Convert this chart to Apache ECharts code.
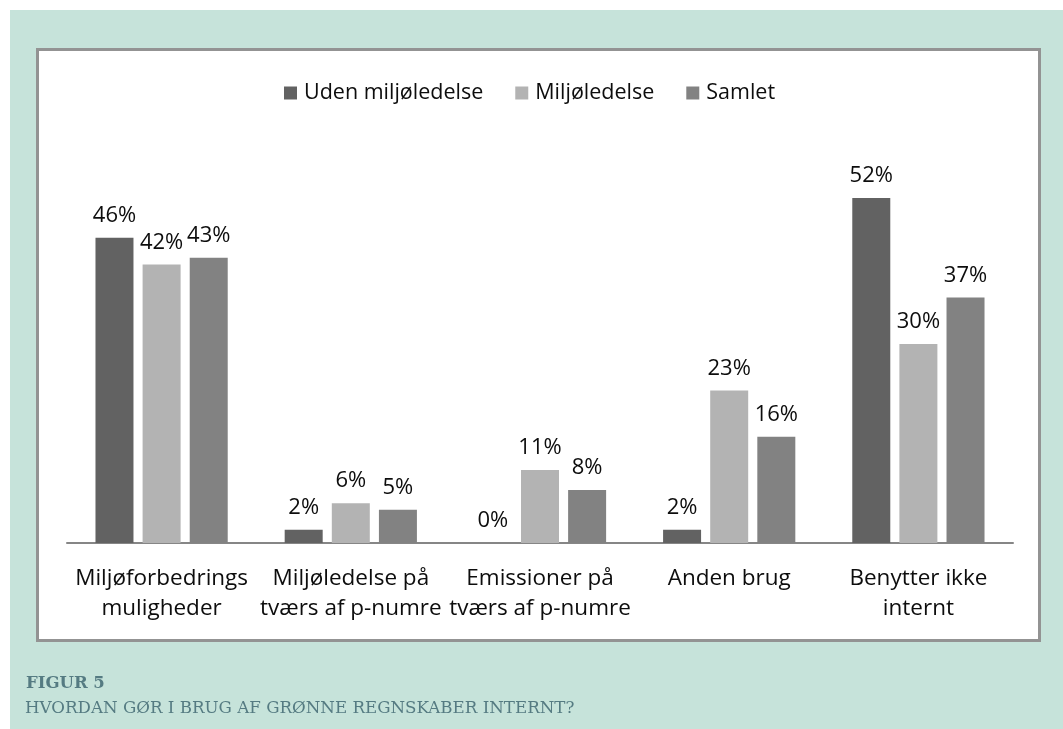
<!DOCTYPE html>
<html>
<head>
<meta charset="utf-8">
<script src="https://cdn.jsdelivr.net/npm/echarts@6/dist/echarts.min.js"></script>
<style>
  html, body { margin: 0; padding: 0; background: #fff; }
  #chart { width: 1063px; height: 729px; }
</style>
</head>
<body>
<div id="chart"></div>
<script>
const categories = [
  'Miljøforbedrings\nmuligheder',
  'Miljøledelse på\ntværs af p-numre',
  'Emissioner på\ntværs af p-numre',
  'Anden brug',
  'Benytter ikke\ninternt'
]
const seriesNames = ['Uden miljøledelse', 'Miljøledelse', 'Samlet']
const udenMiljoledelse = [46, 2, 0, 2, 52]
const miljoledelse = [42, 6, 11, 23, 30]
const samlet = [43, 5, 8, 16, 37]
const colors = ['#626262', '#b3b3b3', '#828282']

const labelFont = '"Open Sans", "Noto Sans", sans-serif'
const captionColor = '#557b82'

const chart = echarts.init(document.getElementById('chart'))

const makeSeries = (name, data, i) => ({
  name,
  type: 'bar',
  data,
  barWidth: 38,
  barGap: '24%',
  itemStyle: { color: colors[i] },
  label: {
    show: true,
    position: 'top',
    distance: 11,
    formatter: p => Math.round(p.value) + '%',
    color: '#0d0d0d',
    fontFamily: labelFont,
    fontSize: 22
  }
})

chart.setOption({
  animation: false,
  backgroundColor: '#ffffff',
  graphic: [
    // green page panel
    { type: 'rect', z: -10, silent: true, shape: { x: 10, y: 10, width: 1053, height: 719 }, style: { fill: '#c6e3da' } },
    // white chart box
    { type: 'rect', z: -9, silent: true, shape: { x: 37.5, y: 49.5, width: 1002, height: 591 },
      style: { fill: '#ffffff', stroke: '#939393', lineWidth: 3 } },
    { type: 'text', z: -8, left: 26, top: 675,
      style: { text: 'FIGUR 5', fill: captionColor, font: 'bold 16.5px "DejaVu Serif", serif' } },
    { type: 'text', z: -8, left: 25, top: 700,
      style: { text: 'HVORDAN GØR I BRUG AF GRØNNE REGNSKABER INTERNT?', fill: captionColor, font: '16.7px "DejaVu Serif", serif' } }
  ],
  legend: {
    data: seriesNames,
    left: 279,
    top: 77,
    icon: 'rect',
    itemWidth: 13,
    itemHeight: 13,
    itemGap: 32,
    textStyle: { color: '#0d0d0d', fontFamily: labelFont, fontSize: 21.5, lineHeight: 22, padding: [0, 0, 0, 2] }
  },
  grid: { left: 67, right: 50, top: 145, bottom: 186, containLabel: false },
  xAxis: {
    type: 'category',
    data: categories,
    axisLine: { lineStyle: { color: '#868686', width: 2 } },
    axisTick: { show: false },
    axisLabel: {
      interval: 0,
      margin: 21,
      color: '#0d0d0d',
      fontFamily: labelFont,
      fontSize: 22.5,
      lineHeight: 30
    }
  },
  yAxis: {
    type: 'value',
    min: 0,
    max: 60,
    show: false,
    splitLine: { show: false }
  },
  series: [
    makeSeries(seriesNames[0], udenMiljoledelse, 0),
    makeSeries(seriesNames[1], miljoledelse, 1),
    makeSeries(seriesNames[2], samlet, 2)
  ]
})
</script>
</body>
</html>
